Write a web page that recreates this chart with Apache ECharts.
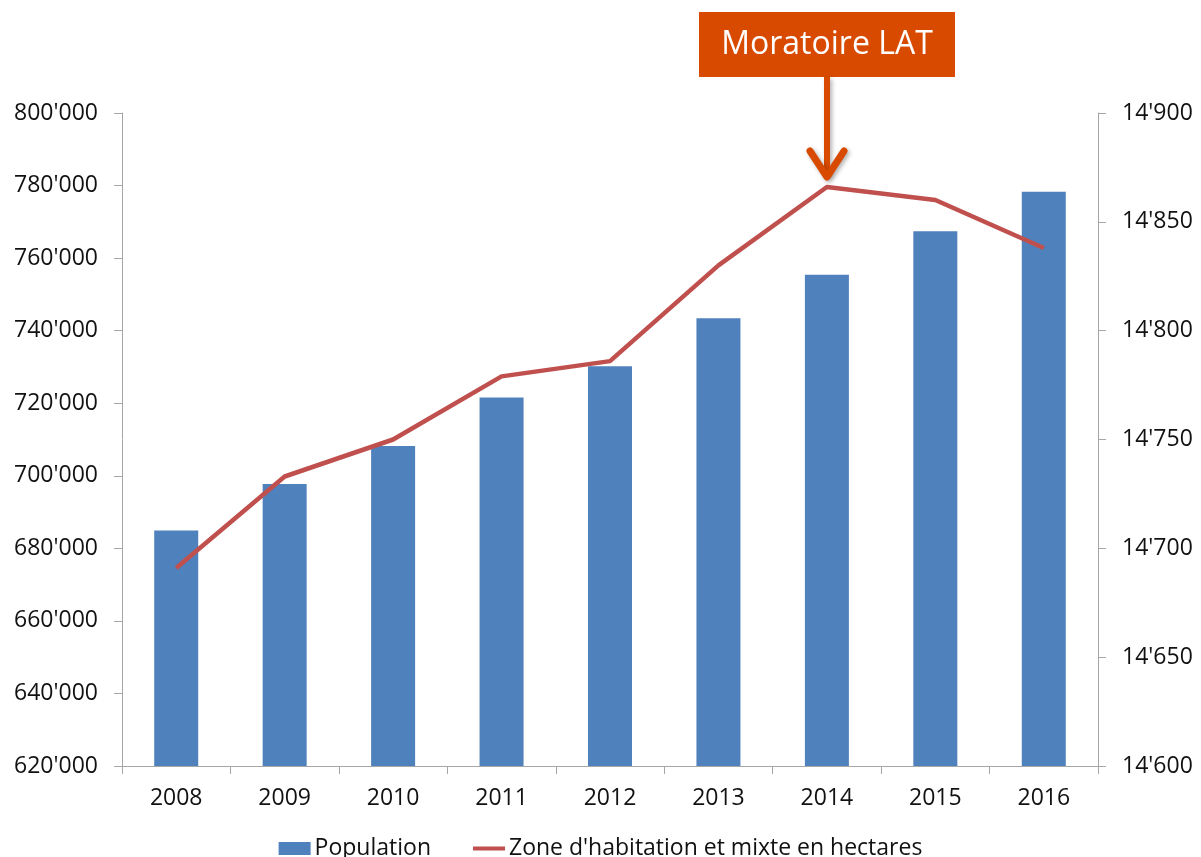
<!DOCTYPE html>
<html>
<head>
<meta charset="utf-8">
<script src="https://cdn.jsdelivr.net/npm/echarts@6/dist/echarts.min.js"></script>
<style>
  html, body { margin: 0; padding: 0; background: #fff; }
  #chart { width: 1201px; height: 857px; }
</style>
</head>
<body>
<div id="chart"></div>
<script>
  // valeurs
  var years = ['2008', '2009', '2010', '2011', '2012', '2013', '2014', '2015', '2016'];
  var population = [684900, 697700, 708200, 721600, 730200, 743400, 755400, 767400, 778300];
  var zoneHectares = [14691, 14733, 14750, 14779, 14786, 14830, 14866, 14860, 14838];
  var annotationText = 'Moratoire LAT';
  var annotationYear = '2014';

  var textColor = '#111';
  var axisGrey = '#a6a6a6';
  var font = '"Open Sans", "Noto Sans", sans-serif';

  function fmtThousands(v) {
    return String(Math.round(v)).replace(/\B(?=(\d{3})+(?!\d))/g, "'");
  }

  var chart = echarts.init(document.getElementById('chart'));

  var option = {
    animation: false,
    textStyle: {fontFamily: font},
    grid: {left: 122, right: 103, top: 113, bottom: 91},
    legend: {
      top: 832,
      left: 'center',
      itemGap: 40,
      itemWidth: 32,
      itemHeight: 13,
      textStyle: {color: textColor, fontSize: 23, fontFamily: font, padding: [0, 0, 0, -1]},
      data: [
        {name: 'Population', icon: 'rect'},
        {name: "Zone d'habitation et mixte en hectares", itemStyle: {opacity: 0}, lineStyle: {width: 4}}
      ]
    },
    xAxis: {
      type: 'category',
      data: years,
      axisLine: {lineStyle: {color: axisGrey, width: 1}},
      axisTick: {show: true, length: 8, lineStyle: {color: axisGrey}},
      axisLabel: {color: textColor, fontSize: 23, margin: 21, fontFamily: font},
      splitLine: {show: false}
    },
    yAxis: [
      {
        type: 'value',
        min: 620000,
        max: 800000,
        interval: 20000,
        position: 'left',
        axisLine: {show: true, lineStyle: {color: axisGrey}},
        axisTick: {show: true, length: 8, lineStyle: {color: axisGrey}},
        axisLabel: {color: textColor, fontSize: 23, margin: 24, fontFamily: font, formatter: fmtThousands},
        splitLine: {show: false}
      },
      {
        type: 'value',
        min: 14600,
        max: 14900,
        interval: 50,
        position: 'right',
        axisLine: {show: true, lineStyle: {color: axisGrey}},
        axisTick: {show: true, length: 8, lineStyle: {color: axisGrey}},
        axisLabel: {color: textColor, fontSize: 23, margin: 24, fontFamily: font, formatter: fmtThousands},
        splitLine: {show: false}
      }
    ],
    series: [
      {
        name: 'Population',
        type: 'bar',
        yAxisIndex: 0,
        barWidth: 44,
        itemStyle: {color: '#4f81bd'},
        data: population
      },
      {
        name: "Zone d'habitation et mixte en hectares",
        type: 'line',
        yAxisIndex: 1,
        symbol: 'none',
        lineStyle: {color: '#c0504d', width: 4.5},
        itemStyle: {color: '#c0504d'},
        data: zoneHectares
      }
    ]
  };

  chart.setOption(option);

  // annotation : boite + fleche au-dessus du point 2014
  var idx = years.indexOf(annotationYear);
  var pt = chart.convertToPixel({xAxisIndex: 0, yAxisIndex: 1}, [idx, zoneHectares[idx]]);
  var ax = Math.round(pt[0]);
  var tipY = pt[1] - 10;
  var orange = '#d84a00';
  var boxW = 256, boxH = 65, boxTop = 12;

  chart.setOption({
    graphic: [
      {
        type: 'rect',
        shape: {x: ax - boxW / 2, y: boxTop, width: boxW, height: boxH},
        style: {fill: orange}
      },
      {
        type: 'text',
        x: ax,
        y: boxTop + boxH / 2,
        style: {
          text: annotationText,
          fill: '#fff',
          font: '32px ' + font,
          align: 'center',
          verticalAlign: 'middle'
        }
      },
      {
        type: 'line',
        shape: {x1: ax, y1: boxTop + boxH, x2: ax, y2: tipY - 2},
        style: {stroke: orange, lineWidth: 6, shadowBlur: 4, shadowColor: 'rgba(0,0,0,0.3)', shadowOffsetX: 2, shadowOffsetY: 2}
      },
      {
        type: 'polyline',
        shape: {points: [[ax - 17, tipY - 26], [ax, tipY], [ax + 17, tipY - 26]]},
        style: {stroke: orange, lineWidth: 7, fill: null, lineCap: 'round', lineJoin: 'round', shadowBlur: 4, shadowColor: 'rgba(0,0,0,0.3)', shadowOffsetX: 2, shadowOffsetY: 2}
      }
    ]
  });
</script>
</body>
</html>
